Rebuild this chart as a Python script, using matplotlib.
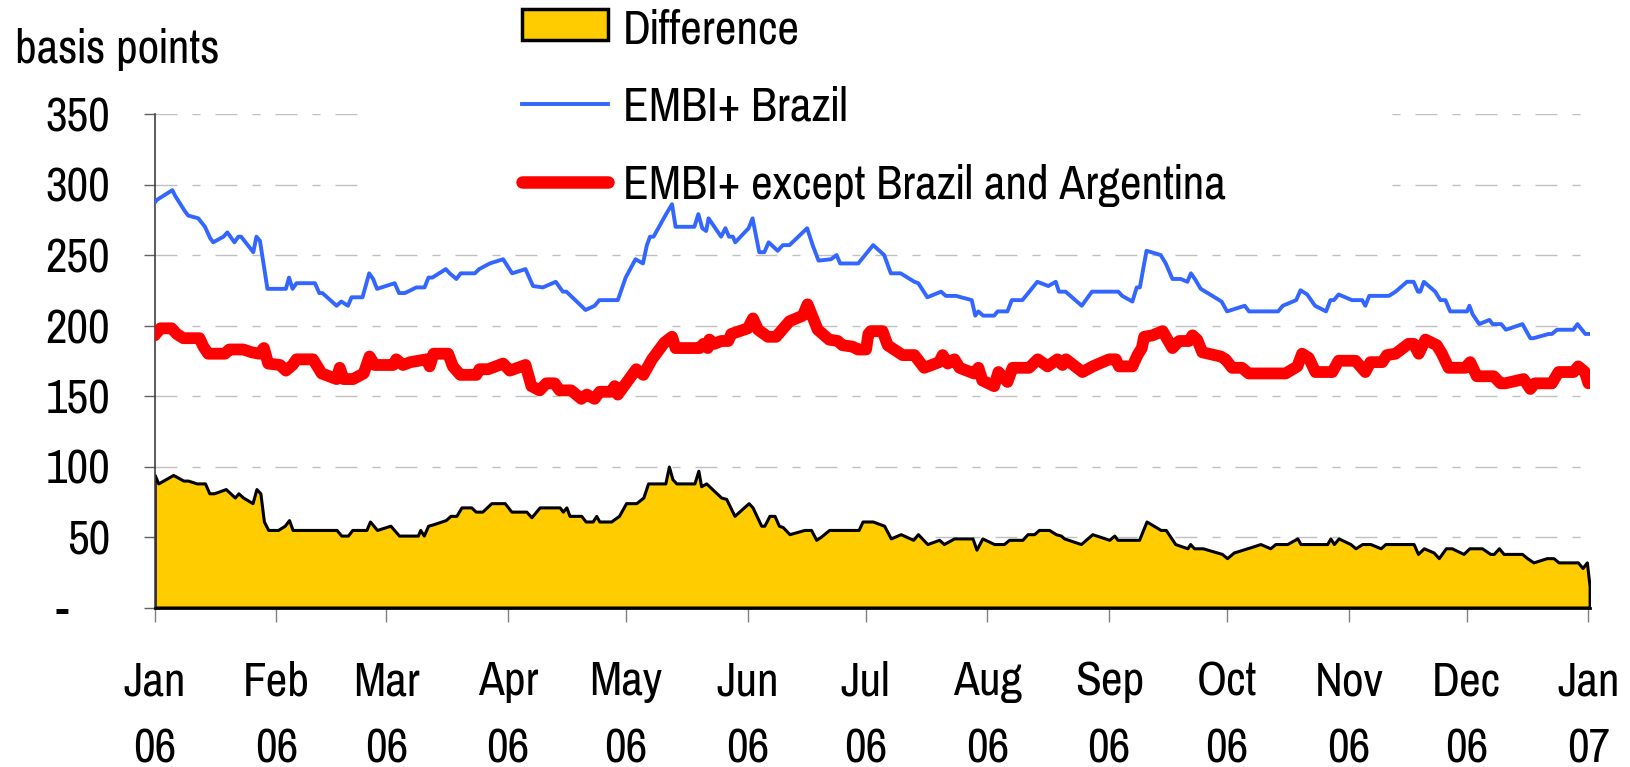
import numpy as np
import pandas as pd
import matplotlib
matplotlib.use("Agg")
import matplotlib.pyplot as plt
import matplotlib.dates as mdates
from matplotlib.patches import Patch, Rectangle
from matplotlib.lines import Line2D
from matplotlib.transforms import ScaledTranslation

plt.rcParams['font.family'] = ['Pragati Narrow', 'Archivo Narrow', 'Liberation Sans', 'DejaVu Sans']

# days after 1 Jan 2006, spread in basis points
brazil_day = [0, 0.5, 4.5, 5.2, 7.7, 8.5, 11.1, 12.8, 14.1, 14.9, 17.5, 18.5, 20.3, 21.3, 22, 25.1,
              25.9, 26.8, 28.7, 33.4, 34.2, 35.1, 36.1, 40.8, 41.9, 42.7, 46.3, 47.5, 49.2, 50.1,
              52.9, 54.6, 55.6, 56.6, 61.1, 62.2, 63.7, 66.6, 68.7, 69.7, 70.7, 74.1, 75.1, 76.8,
              77.9, 81.5, 82.6, 85.3, 88.7, 91.0, 94.4, 96.3, 98.8, 102.1, 103.9, 104.8, 109.7,
              112.0, 113.2, 117.9, 119.9, 122.4, 124.3, 125.3, 126.1, 127.0, 130.2, 131.7, 132.6,
              137.4, 138.4, 139.4, 140.4, 141.0, 144.2, 145.3, 146.2, 147.2, 147.8, 151.2, 152.2,
              153.9, 155.2, 156.3, 158.6, 159.9, 161.6, 166.1, 167.5, 169.0, 172.2, 173.6, 174.5,
              179.1, 182.9, 185.7, 187.4, 189.9, 193.4, 194.4, 196.7, 200.2, 201.4, 204.0, 208.0,
              208.9, 209.7, 210.9, 213.7, 214.6, 217.1, 218.2, 220.9, 224.7, 227.5, 229.4, 230.2,
              231.9, 236.0, 238.6, 245.3, 246.3, 248.9, 250.0, 250.8, 252.5, 256.1, 257.4, 259.1,
              261.2, 262.9, 263.8, 264.8, 266.3, 267.5, 271.6, 273.0, 277.5, 278.6, 286.0, 287.2,
              290.6, 291.7, 293.4, 295.4, 298.2, 299.3, 300.2, 301.4, 304.8, 307.4, 308.2, 309.2,
              314.2, 315.9, 318.8, 320.5, 321.6, 322.2, 323.1, 326.0, 327.3, 328.6, 329.8, 334.1,
              334.7, 335.5, 337.2, 339.8, 340.6, 342.8, 344.0, 348.2, 350.2, 351.0, 354.9, 355.7,
              357.0, 361.2, 362.2, 364.2, 365.0]
brazil_bp = [287, 289, 296, 292, 281, 278, 276, 270, 262, 259, 263, 266, 259, 263, 263, 252,
             263, 260, 226, 226, 234, 226, 230, 230, 223, 223, 214, 217, 214, 220,
             220, 237, 233, 226, 230, 223, 223, 227, 227, 234, 234, 240, 237, 233,
             237, 237, 240, 244, 247, 237, 240, 228, 227, 231, 224, 224, 211,
             214, 218, 218, 234, 247, 244, 257, 263, 263, 279, 286, 270,
             270, 279, 269, 267, 276, 263, 269, 263, 263, 259, 269, 276,
             252, 252, 259, 253, 257, 257, 269, 257, 246, 247, 250, 244,
             244, 257, 250, 237, 237, 231, 230, 220, 224, 221, 221, 218,
             207, 210, 207, 207, 210, 210, 218, 218, 231, 228, 231, 224,
             224, 214, 224, 224, 221, 217, 227, 227, 253, 250, 244, 233,
             233, 231, 237, 233, 226, 224, 217, 210, 214, 210, 210, 214,
             218, 225, 222, 214, 210, 218, 218, 222, 218, 218, 214, 221,
             221, 224, 231, 231, 224, 224, 231, 224, 218, 218, 210, 210,
             214, 208, 201, 204, 201, 201, 197, 201, 191, 191, 194, 194,
             197, 197, 201, 194, 194]

others_day = [0, 1.5, 4.3, 5.6, 7.3, 11.4, 12.4, 13.6, 17.9, 19.0, 22.5, 24.7, 26.6, 27.8, 28.9,
              31.9, 33.4, 35.1, 36.1, 40.3, 42.5, 46.3, 47.1, 48.1, 50.5, 53.2, 54.7, 56.0, 60.7,
              61.5, 63.2, 65.1, 69.2, 70.0, 71.0, 74.7, 75.9, 77.8, 81.9, 82.7, 84.9, 88.7, 90.4,
              94.4, 95.9, 98.0, 99.7, 101.8, 103.1, 106.0, 108.6, 110.0, 112.0, 113.3, 116.2,
              117.1, 117.9, 122.6, 124.4, 126.6, 129.8, 131.7, 132.6, 138.7, 139.7, 140.8, 141.2,
              142.5, 144.2, 146.0, 146.8, 151.0, 152.3, 153.6, 156.1, 158.2, 161.6, 165.0, 166.2,
              167.5, 168.8, 171.7, 173.9, 175.1, 177.7, 179.0, 181.1, 181.7, 182.3, 185.3, 186.6,
              190.4, 193.4, 195.9, 199.7, 200.6, 201.9, 203.6, 204.9, 208.6, 209.7, 210.7, 213.7,
              214.8, 217.1, 218.4, 222.6, 224.8, 227.3, 229.8, 231.1, 232.0, 236.2, 238.8, 243.0,
              244.7, 245.5, 248.9, 250.2, 251.3, 251.9, 254.0, 256.6, 259.1, 260.8, 263.3, 264.2,
              265.4, 266.7, 271.4, 272.6, 274.3, 276.8, 278.5, 287.9, 290.9, 292.1, 293.8, 295.5,
              299.8, 301.4, 305.7, 308.2, 309.5, 312.5, 313.7, 315.9, 319.2, 320.5, 321.8, 323.5,
              326.4, 327.7, 329.4, 333.6, 334.9, 336.6, 340.9, 342.6, 343.8, 348.5, 350.2, 351.4,
              355.7, 357.4, 361.2, 362.4, 364.1, 365.0]
others_bp = [193, 198, 198, 194, 191, 191, 185, 180, 180, 183, 183, 181, 180, 184, 173,
             172, 168, 172, 176, 176, 166, 162, 170, 162, 162, 166, 178, 172, 172,
             176, 172, 174, 176, 171, 180, 180, 171, 165, 165, 169, 169, 173, 168,
             172, 157, 154, 159, 159, 154, 154, 148, 151, 148, 153, 153,
             157, 151, 169, 165, 176, 188, 192, 184, 184, 187, 184, 190,
             187, 189, 189, 194, 198, 205, 197, 192, 192, 203, 207, 215,
             206, 197, 190, 189, 186, 185, 183, 183, 194, 196, 196, 186,
             179, 179, 170, 174, 179, 173, 176, 170, 166, 170, 161, 157,
             167, 160, 170, 170, 176, 171, 176, 172, 176, 167, 171, 176,
             176, 171, 171, 179, 184, 192, 193, 196, 184, 189, 189, 193,
             190, 181, 178, 176, 170, 170, 166, 166, 171, 180, 177, 167,
             167, 175, 175, 167, 174, 174, 179, 180, 187, 187, 180, 190,
             186, 180, 170, 170, 174, 164, 164, 159, 159, 162, 155, 159,
             159, 167, 167, 171, 167, 159]

diff_day = [0, 0.9, 4.7, 7.3, 8.5, 10.7, 12.8, 13.9, 15.1, 18.1, 20.4, 21.3, 22.5, 24.9, 25.9,
            26.9, 27.8, 28.9, 31.4, 33.1, 34.2, 35.1, 46.3, 47.5, 49.2, 50.3, 53.9, 54.8, 56.6,
            60.0, 62.2, 67.0, 67.6, 68.5, 69.6, 70.9, 74.1, 75.3, 76.8, 78.1, 80.6, 81.7, 83.4,
            85.7, 89.1, 90.8, 94.6, 95.9, 98.0, 103.1, 103.9, 104.8, 105.6, 108.6, 109.7, 111.5,
            112.4, 113.2, 116.2, 118.2, 120.0, 122.6, 124.4, 125.6, 130.0, 130.9, 131.8, 132.8,
            137.4, 138.4, 139.1, 140.4, 144.2, 145.5, 147.6, 151.2, 152.2, 154.4, 155.2, 156.5,
            157.8, 158.9, 159.9, 161.6, 165.4, 167.1, 168.4, 169.5, 171.7, 179.2, 180.2, 182.8,
            185.7, 187.4, 189.9, 193.1, 194.3, 196.7, 199.7, 200.9, 203.5, 208.2, 209.2, 210.7,
            213.7, 216.2, 217.5, 220.9, 222.2, 223.9, 225.1, 227.7, 229.4, 230.7, 231.5, 235.8,
            238.7, 243.0, 244.3, 245.1, 250.6, 252.5, 256.1, 257.4, 259.8, 262.9, 263.6, 264.6,
            266.8, 271.7, 273.0, 274.7, 279.3, 281.5, 284.0, 285.3, 288.3, 290.9, 291.7, 298.5,
            299.3, 300.2, 301.4, 304.4, 305.7, 307.4, 309.5, 312.1, 313.3, 320.5, 321.6, 323.1,
            325.6, 326.9, 328.7, 330.2, 333.2, 334.7, 337.9, 340.0, 340.9, 342.2, 343.4, 348.1,
            349.4, 351.0, 354.4, 356.1, 357.4, 362.3, 363.5, 364.6, 365.3]
diff_bp = [94, 88, 94, 90, 90, 88, 88, 81, 81, 84, 78, 81, 78, 74, 84,
           81, 61, 55, 55, 58, 62, 55, 55, 51, 51, 55, 55, 61, 55,
           58, 51, 51, 55, 51, 58, 59, 62, 65, 65, 71, 71, 68, 68,
           74, 74, 68, 68, 64, 71, 71, 68, 71, 65, 65, 61, 61,
           65, 61, 61, 65, 74, 74, 78, 88, 88, 100, 91, 88,
           88, 97, 86, 88, 78, 77, 65, 74, 71, 58, 58, 65,
           65, 58, 57, 52, 55, 55, 48, 50, 55, 55, 61, 61,
           58, 49, 52, 48, 52, 45, 48, 45, 49, 49, 41, 49,
           45, 45, 48, 48, 52, 52, 55, 55, 52, 51, 49, 45,
           52, 48, 51, 48, 48, 61, 55, 55, 45, 42, 45, 42,
           42, 38, 35, 39, 43, 45, 42, 45, 45, 49, 45, 45,
           49, 45, 49, 45, 42, 45, 45, 42, 45, 45, 38, 42,
           39, 35, 42, 42, 38, 42, 42, 38, 38, 42, 38, 38,
           35, 32, 35, 35, 32, 32, 28, 32, 15]

y_ticks = [0, 50, 100, 150, 200, 250, 300, 350]
y_labels = ['-', '50', '100', '150', '200', '250', '300', '350']

start = pd.Timestamp('2006-01-01')
def to_dates(days):
    return start + pd.to_timedelta(np.array(days), unit='D')

W, H = 1630, 767
FS = 37
fig = plt.figure(figsize=(W / 100, H / 100), dpi=100)
ax = fig.add_axes([154.7 / W, 1 - 607.5 / H, (1590 - 154.7) / W, (607.5 - 114) / H])

ax.fill_between(to_dates(diff_day), diff_bp, 0, facecolor='#FFCC00', edgecolor='black',
                linewidth=2.2, zorder=2)
ax.plot(to_dates(others_day), others_bp, color='#FF0000', lw=8.5, solid_joinstyle='round',
        solid_capstyle='round', zorder=3)
ax.plot(to_dates(brazil_day), brazil_bp, color='#3366FF', lw=2.8, solid_joinstyle='round', zorder=4)

ax.set_ylim(0, 350)
ax.set_xlim(start, start + pd.Timedelta(days=365.4))
ax.set_yticks(y_ticks)
ax.set_yticklabels(y_labels)
ax.xaxis.set_major_locator(mdates.MonthLocator())
ax.xaxis.set_major_formatter(mdates.DateFormatter('%b\n%y'))

ax.yaxis.grid(True, color='#C0C0C0', lw=1.0, linestyle=(0, (15.8, 10.8, 5.8, 10.8)), zorder=0)
ax.set_axisbelow(True)

for s in ['top', 'right']:
    ax.spines[s].set_visible(False)
ax.spines['left'].set_color('#404040')
ax.spines['left'].set_linewidth(1.2)
ax.spines['bottom'].set_color('black')
ax.spines['bottom'].set_linewidth(2)

ax.tick_params(axis='y', length=8, width=1, color='#606060', pad=24, labelsize=FS)
ax.tick_params(axis='x', length=10, width=1, color='#808080', pad=28, labelsize=FS)
for lab in ax.get_xticklabels():
    lab.set_linespacing(1.68)

# zero label sits further left (accounting format)
zl = ax.get_yticklabels()[0]
zl.set_transform(zl.get_transform() + ScaledTranslation(-0.42, 0, fig.dpi_scale_trans))

# white legend box hiding the top gridlines
ax.add_patch(Rectangle((358 / W, 1 - 205 / H), (1386 - 358) / W, 205 / H,
                       transform=fig.transFigure, facecolor='white', edgecolor='none',
                       clip_on=False, zorder=1.5))

handles = [Patch(facecolor='#FFCC00', edgecolor='black', linewidth=2.5),
           Line2D([], [], color='#3366FF', lw=2.8),
           Line2D([], [], color='#FF0000', lw=9, solid_capstyle='round')]
labels = ['Difference', 'EMBI+ Brazil', 'EMBI+ except Brazil and Argentina']
fig.legend(handles, labels, loc='upper left', bbox_to_anchor=(522 / W, 1 - 8 / H),
           frameon=False, fontsize=FS, borderpad=0, borderaxespad=0, handlelength=1.68,
           handleheight=0.56, handletextpad=0.28, labelspacing=0.68)

fig.text(15 / W, 1 - 63 / H, 'basis points', fontsize=FS, ha='left', va='baseline')

fig.savefig('out.png', dpi=100)
